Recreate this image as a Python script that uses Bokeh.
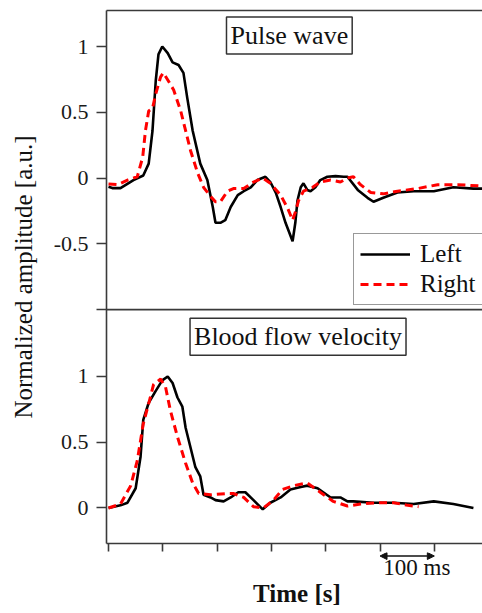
from bokeh.plotting import figure
from bokeh.layouts import column
from bokeh.models import (Range1d, LinearAxis, FixedTicker, Label, Legend, LegendItem,
                          Arrow, NormalHead, Span)
from bokeh.embed import file_html
from bokeh.resources import INLINE

FONT = "Liberation Serif, Times New Roman, serif"

# ---------------- data (time in ms, normalized amplitude) ----------------
pw_left_t = [0, 7, 22, 46, 64, 74, 81, 87, 92, 99, 109, 118, 129, 138, 145, 155, 169, 182, 192, 197,
             206, 215, 225, 238, 249, 262, 274, 289, 298, 308, 317, 326, 339, 344, 348, 354, 359, 366, 372, 381,
             390, 403, 418, 433, 440, 459, 477, 488, 506, 532, 562, 599, 635, 672, 689]
pw_left_v = [-0.066, -0.076, -0.076, -0.015, 0.02, 0.11, 0.36, 0.74, 0.94, 1.0,
             0.95, 0.88, 0.86, 0.80, 0.61, 0.36, 0.11, -0.015, -0.22, -0.34,
             -0.34, -0.32, -0.22, -0.13, -0.10, -0.07, -0.015, 0.01, -0.03, -0.11,
             -0.22, -0.34, -0.48, -0.34, -0.17, -0.07, -0.04, -0.09, -0.10, -0.07,
             -0.015, 0.01, 0.015, 0.01, 0.01, -0.09, -0.15, -0.18, -0.15, -0.11,
             -0.10, -0.10, -0.07, -0.08, -0.08]

pw_right_t = [0, 17, 35, 53, 63, 68, 74, 81, 87, 96, 101, 110, 120, 133, 142, 151, 164, 175, 188, 197,
              206, 219, 230, 249, 267, 284, 298, 317, 330, 339, 344, 350, 359, 376, 390, 409, 427, 440, 451, 464,
              483, 506, 532, 569, 606, 643, 685, 689]
pw_right_v = [-0.045, -0.05, -0.015, 0.01, 0.16, 0.36, 0.51, 0.53, 0.64, 0.77,
              0.80, 0.74, 0.67, 0.51, 0.36, 0.21, 0.04, -0.07, -0.14, -0.18,
              -0.18, -0.10, -0.08, -0.08, -0.03, 0.0, -0.04, -0.13, -0.23, -0.32,
              -0.26, -0.17, -0.10, -0.07, -0.03, -0.015, -0.03, 0.0, 0.01, -0.05,
              -0.11, -0.12, -0.10, -0.08, -0.05, -0.05, -0.06, -0.06]

bf_left_t = [0, 22, 35, 50, 59, 64, 74, 87, 99, 109, 118, 127, 136, 142, 151, 160, 169, 175, 188, 197,
             212, 225, 239, 252, 267, 284, 298, 317, 335, 354, 366, 385, 409, 427, 440, 451, 488, 525, 562, 599,
             635, 672]
bf_left_v = [0.0, 0.02, 0.04, 0.15, 0.39, 0.67, 0.80, 0.89, 0.97, 1.0,
             0.95, 0.84, 0.77, 0.61, 0.46, 0.31, 0.24, 0.10, 0.08, 0.06,
             0.05, 0.08, 0.12, 0.12, 0.06, -0.01, 0.04, 0.08, 0.14, 0.16,
             0.17, 0.15, 0.08, 0.08, 0.05, 0.05, 0.04, 0.04, 0.03, 0.05,
             0.03, 0.0]

bf_right_t = [0, 22, 41, 53, 64, 77, 83, 96, 105, 114, 127, 142, 155, 166, 188, 219, 230, 249, 267, 285,
              304, 320, 341, 366, 390, 414, 440, 464, 495, 525, 551, 571]
bf_right_v = [0.0, 0.03, 0.17, 0.36, 0.64, 0.84, 0.94, 0.98, 0.92, 0.74,
              0.54, 0.34, 0.19, 0.11, 0.10, 0.11, 0.11, 0.08, 0.01, 0.0,
              0.06, 0.14, 0.17, 0.19, 0.12, 0.05, 0.015, 0.03, 0.04, 0.04,
              0.02, 0.01]

time_ticks = [0, 100, 200, 300, 400, 500, 600]
top_ticks = [1, 0.5, 0, -0.5]
top_tick_labels = ["1", "0.5", "0", "-0.5"]
bot_ticks = [1, 0.5, 0]
bot_tick_labels = ["1", "0.5", "0"]
series_names = ["Left", "Right"]
panel_titles = ["Pulse wave", "Blood flow velocity"]
scale_bar = [500, 600]     # ms, the "100 ms" scale bar

# ---------------- layout constants ----------------
top_start, top_end = -2.778, 1.274      # upper panel range (shares pixel scale with lower)
offset = 2.508                          # lower value = upper value + offset
bot_start, bot_end = top_start + offset, top_end + offset
sep_top = -1.0                          # boundary between the two panels (upper coords)

AX = "#3a3a3a"
TXT = "#111111"
W = 482
X_RANGE = Range1d(-3.7, 688.7)

p = figure(width=W, height=552, output_backend="svg", toolbar_location=None,
           x_range=X_RANGE, y_range=Range1d(top_start, top_end),
           x_axis_location=None, y_axis_location=None,
           min_border_left=106, min_border_right=0, min_border_top=10, min_border_bottom=9)
p.extra_y_ranges = {"bottom": Range1d(bot_start, bot_end)}
p.outline_line_color = None
p.background_fill_color = "white"
p.border_fill_color = "white"
p.xgrid.visible = False
p.ygrid.visible = False
for g in p.grid:
    g.visible = False

# left axis covering both panels
yt = list(top_ticks) + [sep_top] + [v - offset for v in bot_ticks]
overrides = {}
for v, s_ in zip(top_ticks, top_tick_labels):
    overrides[float(v)] = s_
overrides[float(sep_top)] = ""
for v, s_ in zip(bot_ticks, bot_tick_labels):
    overrides[float(v - offset)] = s_
yaxis = LinearAxis(ticker=FixedTicker(ticks=[float(t) for t in yt], minor_ticks=[]),
                   major_label_overrides=overrides,
                   axis_label="Normalized amplitude [a.u.]",
                   axis_label_text_font=FONT, axis_label_text_font_size="25px",
                   axis_label_text_font_style="normal", axis_label_text_color=TXT,
                   axis_label_standoff=14,
                   major_label_text_font=FONT, major_label_text_font_size="22px",
                   major_label_text_color="#1a1a1a", major_label_standoff=8,
                   major_tick_out=10, major_tick_in=0, minor_tick_out=0, minor_tick_in=0,
                   axis_line_color=AX, axis_line_width=1.6,
                   major_tick_line_color=AX, major_tick_line_width=1.6)
p.add_layout(yaxis, "left")

# bottom time axis (ticks only)
xaxis = LinearAxis(ticker=FixedTicker(ticks=time_ticks, minor_ticks=[]),
                   major_label_text_font_size="0px", major_label_standoff=0,
                   major_tick_out=8, major_tick_in=0, minor_tick_out=0, minor_tick_in=0,
                   axis_line_color=AX, axis_line_width=1.6,
                   major_tick_line_color=AX, major_tick_line_width=1.6)
p.add_layout(xaxis, "below")

# top border line
taxis = LinearAxis(ticker=FixedTicker(ticks=[], minor_ticks=[]),
                   major_label_text_font_size="0px", major_label_standoff=0,
                   major_tick_out=0, major_tick_in=0,
                   minor_tick_out=0, minor_tick_in=0,
                   axis_line_color=AX, axis_line_width=1.6)
p.add_layout(taxis, "above")

# separator between panels
p.add_layout(Span(location=sep_top, dimension="width", line_color=AX, line_width=1.6))

# curves
r_pl = p.line(pw_left_t, pw_left_v, line_color="black", line_width=2.6)
r_pr = p.line(pw_right_t, pw_right_v, line_color="#ff0000", line_width=3, line_dash="8 5")
p.line(bf_left_t, bf_left_v, line_color="black", line_width=2.6, y_range_name="bottom")
p.line(bf_right_t, bf_right_v, line_color="#ff0000", line_width=3, line_dash="8 5",
       y_range_name="bottom")

# panel titles
p.add_layout(Label(x=333, y=1.084, text=panel_titles[0], text_align="center",
                   text_baseline="middle", text_font=FONT, text_font_size="26px",
                   text_color=TXT, padding=4, border_line_color="#333333",
                   border_line_width=1.5, background_fill_color="white"))
p.add_layout(Label(x=349, y=1.301, y_range_name="bottom", text=panel_titles[1],
                   text_align="center", text_baseline="middle", text_font=FONT,
                   text_font_size="26px", text_color=TXT, padding=4,
                   border_line_color="#333333", border_line_width=1.5,
                   background_fill_color="white"))

# legend
legend = Legend(items=[LegendItem(label=series_names[0], renderers=[r_pl]),
                       LegendItem(label=series_names[1], renderers=[r_pr])],
                location=(247, 238), orientation="vertical",
                label_text_font=FONT, label_text_font_size="25px", label_text_color=TXT,
                glyph_width=50, glyph_height=28, label_height=28, label_standoff=10,
                spacing=2, padding=6, margin=0,
                border_line_color="#333333", border_line_width=1.5,
                background_fill_color="white", background_fill_alpha=1.0)
p.add_layout(legend, "center")

# ---------------- strip under the axis: scale bar and axis title ----------------
s = figure(width=W, height=60, output_backend="svg", toolbar_location=None,
           x_range=X_RANGE, y_range=Range1d(60, 0),
           x_axis_location=None, y_axis_location=None,
           min_border_left=106, min_border_right=0, min_border_top=0, min_border_bottom=0)
s.outline_line_color = None
s.background_fill_color = "white"
s.border_fill_color = "white"
s.xgrid.visible = False
s.ygrid.visible = False

s.add_layout(Arrow(x_start=scale_bar[0], x_end=scale_bar[1], y_start=3.5, y_end=3.5,
                   line_color=TXT, line_width=1.5,
                   start=NormalHead(size=7, fill_color=TXT, line_color=TXT),
                   end=NormalHead(size=7, fill_color=TXT, line_color=TXT)))
s.add_layout(Label(x=scale_bar[0] + 6, y=15, text="100 ms", text_align="left",
                   text_baseline="middle", text_font=FONT, text_font_size="23px",
                   text_color=TXT))
s.add_layout(Label(x=347, y=41, text="Time [s]", text_align="center",
                   text_baseline="middle", text_font=FONT, text_font_size="25px",
                   text_font_style="bold", text_color=TXT))

layout = column(p, s, spacing=0)
open("out.html", "w").write(file_html(layout, INLINE))
